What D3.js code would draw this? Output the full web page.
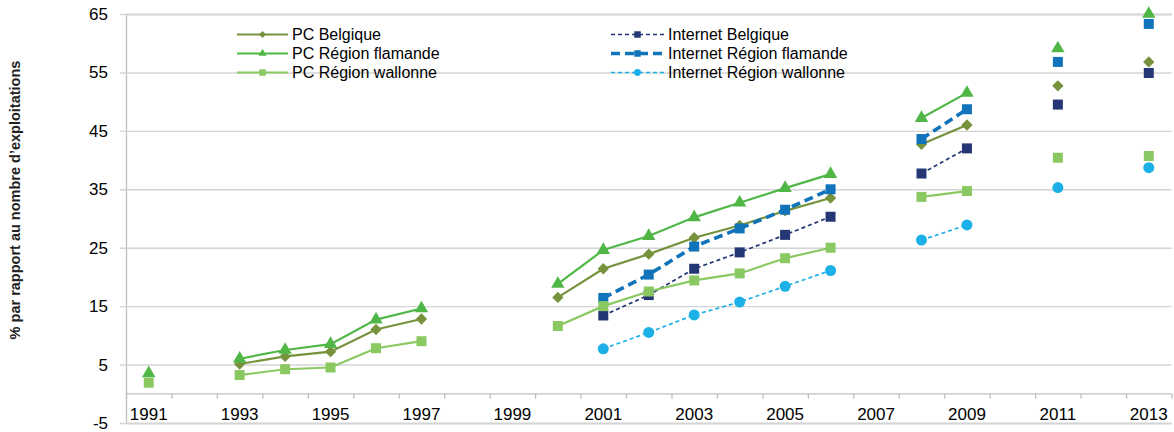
<!DOCTYPE html>
<html>
<head>
<meta charset="utf-8">
<script src="https://cdn.jsdelivr.net/npm/d3@7"></script>
<style>
  html, body { margin: 0; padding: 0; background: #fff; }
  svg { display: block; font-family: "Liberation Sans", Arial, sans-serif; }
</style>
</head>
<body>
<svg id="chart" width="1174" height="432"></svg>
<script>
// ---- data ----
const years = ["1991","1992","1993","1994","1995","1996","1997","1998","1999","2000","2001","2002",
               "2003","2004","2005","2006","2007","2008","2009","2010","2011","2012","2013"];
const yearLabels = ["1991","1993","1995","1997","1999","2001","2003","2005","2007","2009","2011","2013"];
const yTicks = [-5, 5, 15, 25, 35, 45, 55, 65];

const pcBelgique   = [null, null, 5.1, 6.4, 7.2, 11.0, 12.8, null, null, 16.5, 21.4, 23.9, 26.7, 28.8, 31.3, 33.5, null, 42.7, 46.0, null, 52.7, null, 56.8];
const pcFlamande   = [3.5, null, 6.0, 7.5, 8.5, 12.7, 14.6, null, null, 18.8, 24.6, 27.0, 30.2, 32.7, 35.2, 37.6, null, 47.2, 51.5, null, 59.1, null, 65.0];
const pcWallonne   = [1.9, null, 3.2, 4.2, 4.5, 7.8, 9.0, null, null, 11.6, 15.0, 17.5, 19.4, 20.6, 23.2, 25.0, null, 33.7, 34.7, null, 40.4, null, 40.7];
const intBelgique  = [null, null, null, null, null, null, null, null, null, null, 13.4, 16.9, 21.4, 24.2, 27.2, 30.3, null, 37.7, 42.0, null, 49.5, null, 54.9];
const intFlamande  = [null, null, null, null, null, null, null, null, null, null, 16.4, 20.4, 25.2, 28.3, 31.5, 35.0, null, 43.6, 48.7, null, 56.8, null, 63.3];
const intWallonne  = [null, null, null, null, null, null, null, null, null, null, 7.7, 10.5, 13.5, 15.7, 18.4, 21.1, null, 26.3, 28.9, null, 35.3, null, 38.7];

const seriesNames = ["PC Belgique", "Internet Belgique", "PC Région flamande", "Internet Région flamande", "PC Région wallonne", "Internet Région wallonne"];
const seriesValues = [pcBelgique, intBelgique, pcFlamande, intFlamande, pcWallonne, intWallonne];

// ---- styles ----
const diamond = {
  draw(ctx, size) {
    const r = Math.sqrt(size / 2);
    ctx.moveTo(0, -r); ctx.lineTo(r, 0); ctx.lineTo(0, r); ctx.lineTo(-r, 0); ctx.closePath();
  }
};
const styles = [
  { color: "#76923c", width: 2.2, dash: null,   shape: diamond,          size: 64,  lsize: 24 },
  { color: "#243673", width: 1.7, dash: "4,3",  shape: d3.symbolSquare,  size: 100, lsize: 42 },
  { color: "#50b747", width: 2.2, dash: null,   shape: d3.symbolTriangle,size: 78,  lsize: 28 },
  { color: "#1173b9", width: 3.6, dash: "9,5",  shape: d3.symbolSquare,  size: 100, lsize: 42 },
  { color: "#8ac862", width: 2.2, dash: null,   shape: d3.symbolSquare,  size: 100, lsize: 42 },
  { color: "#1db0e6", width: 1.7, dash: "4,3",  shape: d3.symbolCircle,  size: 95,  lsize: 36 }
];

// ---- layout ----
const svg = d3.select("#chart");
const mLeft = 126, mRight = 1171.5, mTop = 14, mBottom = 423;

const x = d3.scaleBand().domain(years).range([mLeft, mRight]).padding(0);
const y = d3.scaleLinear().domain([-5, 65]).range([mBottom, mTop]);
const xi = d3.scaleLinear().domain([0, years.length]).range([mLeft, mRight]);

// y axis with gridlines
const yAxis = d3.axisLeft(y).tickValues(yTicks).tickSize(-(mRight - mLeft)).tickPadding(18).tickFormat(d => String(d));
const gy = svg.append("g").attr("transform", `translate(${mLeft},0)`).call(yAxis);
gy.select(".domain").attr("stroke", "#bfbfbf").attr("stroke-width", 1.3);
gy.selectAll(".tick line").attr("x1", -6).attr("stroke", "#d4d4d4").attr("stroke-width", 1.4);
gy.selectAll(".tick text").attr("font-size", 17).attr("fill", "#000");

// x axis (category axis at y=0)
const y0 = y(0);
const xTickAxis = d3.axisBottom(xi).tickValues(d3.range(0, years.length + 1)).tickSize(5).tickFormat("");
const gxt = svg.append("g").attr("transform", `translate(0,${y0})`).call(xTickAxis);
gxt.select(".domain").attr("stroke", "#bfbfbf").attr("stroke-width", 1.3).attr("d", `M${mLeft},0H${mRight}`);
gxt.selectAll(".tick line").attr("stroke", "#bfbfbf").attr("stroke-width", 1.3);

const xAxis = d3.axisBottom(x).tickValues(yearLabels).tickSize(0).tickPadding(14);
const gx = svg.append("g").attr("transform", `translate(0,${y0})`).call(xAxis);
gx.select(".domain").remove();
gx.selectAll(".tick text").attr("font-size", 17).attr("fill", "#000");

// y axis title
svg.append("text")
  .attr("transform", `translate(20,200) rotate(-90)`)
  .attr("text-anchor", "middle")
  .attr("font-size", 14.5)
  .attr("font-weight", "bold")
  .attr("fill", "#222")
  .text("% par rapport au nombre d\u2019exploitations");

// series
const cx = i => x(years[i]) + x.bandwidth() / 2;
seriesValues.forEach((vals, s) => {
  const st = styles[s];
  const line = d3.line()
    .defined(d => d != null)
    .x((d, i) => cx(i))
    .y(d => y(d));
  const g = svg.append("g");
  g.append("path")
    .attr("d", line(vals))
    .attr("fill", "none")
    .attr("stroke", st.color)
    .attr("stroke-width", st.width)
    .attr("stroke-dasharray", st.dash);
  const pts = vals.map((v, i) => ({ v, i })).filter(p => p.v != null);
  g.selectAll("path.m").data(pts).enter().append("path")
    .attr("class", "m")
    .attr("d", d3.symbol().type(st.shape).size(st.size))
    .attr("transform", p => `translate(${cx(p.i)},${y(p.v)})`)
    .attr("fill", st.color);
});

// legend (two columns, row-major)
const legendCols = [{ x1: 237, x2: 288, tx: 292 }, { x1: 611, x2: 664, tx: 668 }];
const legendRows = [34.5, 53.5, 72.5];
seriesNames.forEach((name, s) => {
  const col = legendCols[s % 2];
  const ry = legendRows[Math.floor(s / 2)];
  const st = styles[s];
  const g = svg.append("g");
  g.append("line")
    .attr("x1", col.x1).attr("x2", col.x2).attr("y1", ry).attr("y2", ry)
    .attr("stroke", st.color).attr("stroke-width", st.width)
    .attr("stroke-dasharray", st.dash);
  g.append("path")
    .attr("d", d3.symbol().type(st.shape).size(st.lsize))
    .attr("transform", `translate(${(col.x1 + col.x2) / 2},${ry})`)
    .attr("fill", st.color);
  g.append("text")
    .attr("x", col.tx).attr("y", ry).attr("dy", "0.35em")
    .attr("font-size", 16).attr("fill", "#000")
    .text(name);
});
</script>
</body>
</html>
